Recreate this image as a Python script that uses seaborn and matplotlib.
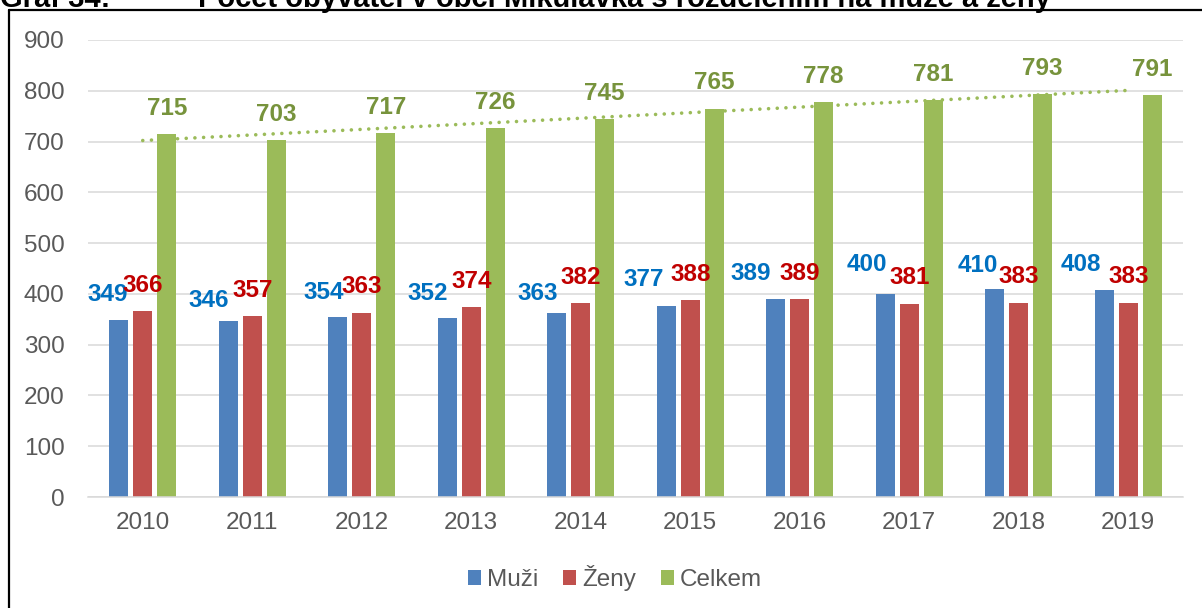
import numpy as np
import pandas as pd
import matplotlib
matplotlib.use("Agg")
import matplotlib.pyplot as plt
from matplotlib.lines import Line2D
from matplotlib.patches import Patch
import seaborn as sns

# Počet obyvatel obce Mikulávka podle pohlaví
roky = ["2010", "2011", "2012", "2013", "2014", "2015", "2016", "2017", "2018", "2019"]
muzi = [349, 346, 354, 352, 363, 377, 389, 400, 410, 408]
zeny = [366, 357, 363, 374, 382, 388, 389, 381, 383, 383]
celkem = [715, 703, 717, 726, 745, 765, 778, 781, 793, 791]
skupiny = ["Muži", "Ženy", "Celkem"]

barvy = {"Muži": "#4F81BD", "Ženy": "#C0504D", "Celkem": "#9BBB59"}
barvy_popisku = {"Muži": "#0070C0", "Ženy": "#C00000", "Celkem": "#77933C"}

df = pd.DataFrame({
    "Rok": roky * 3,
    "Skupina": ["Muži"] * 10 + ["Ženy"] * 10 + ["Celkem"] * 10,
    "Počet": muzi + zeny + celkem,
})

sns.set_theme(style="white")
plt.rcParams["font.family"] = ["Liberation Sans", "DejaVu Sans"]

fig = plt.figure(figsize=(12.02, 6.08), dpi=100)
ax = fig.add_axes([88 / 1202, 1 - 497 / 608, (1183 - 88) / 1202, (497 - 40) / 608])

sns.barplot(data=df, x="Rok", y="Počet", hue="Skupina", order=roky,
            hue_order=skupiny, palette=barvy, width=0.657, gap=0.21,
            linewidth=0, saturation=1, legend=False, ax=ax)

ax.set_ylim(0, 900)
ax.set_yticks(range(0, 901, 100))
ax.set_xlim(-0.5, len(roky) - 0.5)
ax.grid(axis="y", color="#D9D9D9", linewidth=1.1)
ax.set_axisbelow(True)
for s in ["left", "right", "top"]:
    ax.spines[s].set_visible(False)
ax.spines["bottom"].set_color("#D9D9D9")
ax.spines["bottom"].set_linewidth(1.1)
ax.tick_params(axis="both", length=0, labelsize=17.5, colors="#595959")
ax.tick_params(axis="y", pad=17)
ax.tick_params(axis="x", pad=11)
ax.set_xlabel("")
ax.set_ylabel("")

# Posuny popisků mužů (v bodech), aby se nepřekrývaly s popisky žen
posun_x_muzi = [-8, -14, -10, -14, -14, -16, -18, -13, -12, -17]
posun_y_muzi = [18, 15, 18, 18, 14, 19, 19, 21, 17, 18]

for kontejner, skupina in zip(ax.containers, skupiny):
    for i, bar in enumerate(kontejner.patches):
        cx = bar.get_x() + bar.get_width() / 2
        h = bar.get_height()
        if skupina == "Muži":
            dx, dy = posun_x_muzi[i], posun_y_muzi[i]
        else:
            dx, dy = 0, 18.5
        ax.annotate(f"{h:.0f}", xy=(cx, h), xytext=(dx, dy),
                    textcoords="offset points", ha="center", va="center",
                    fontsize=17.5, fontweight="bold",
                    color=barvy_popisku[skupina])

# Lineární trend celkového počtu obyvatel
x = np.arange(len(roky))
k, q = np.polyfit(x, celkem, 1)
ax.plot(x, k * x + q, color="#9BBB59", linewidth=2.6,
        linestyle=(0, (0.01, 2.4)), dash_capstyle="round", zorder=5)

# Legenda
rucky = [Patch(facecolor=barvy[s], edgecolor="none") for s in skupiny]
fig.legend(rucky, skupiny, loc="center", bbox_to_anchor=(615 / 1202, 1 - 578 / 608),
           ncol=3, frameon=False, fontsize=17.5, labelcolor="#595959",
           handlelength=0.55, handleheight=0.55, handletextpad=0.25,
           columnspacing=1.0)

# Rámeček grafu a nadpis
fig.add_artist(Line2D([8.5 / 1202, 8.5 / 1202], [0, 1 - 10 / 608],
                      transform=fig.transFigure, color="black", linewidth=1.6))
fig.add_artist(Line2D([8.5 / 1202, 1], [1 - 10 / 608, 1 - 10 / 608],
                      transform=fig.transFigure, color="black", linewidth=1.6))
fig.text(0 / 1202, 1 - 7 / 608, "Graf 34:", fontsize=21, fontweight="bold",
         va="baseline", ha="left", color="black")
fig.text(198 / 1202, 1 - 7 / 608,
         "Počet obyvatel v obci Mikulávka s rozdělením na muže a ženy",
         fontsize=21, fontweight="bold", va="baseline", ha="left", color="black")

fig.savefig("out.png", dpi=100, facecolor="white")
